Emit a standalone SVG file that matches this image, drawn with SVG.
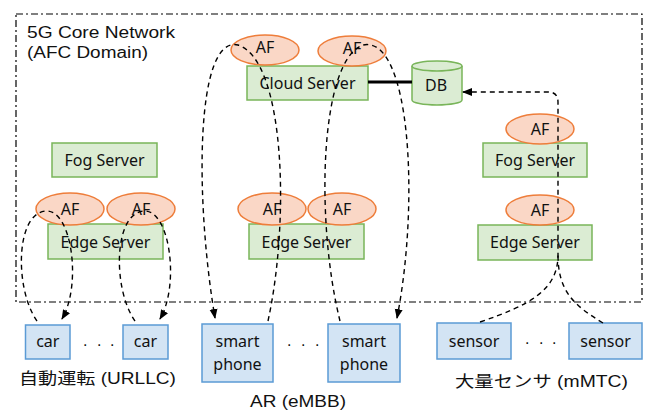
<svg xmlns="http://www.w3.org/2000/svg" width="649" height="412" viewBox="0 0 649 412">
<style>
.srv{fill:#dbecd3;stroke:#79b55a;stroke-width:1.5}
.af{fill:#fad7c6;stroke:#ee7d3a;stroke-width:1.5}
.dev{fill:#d3e4f4;stroke:#5b9bd5;stroke-width:1.5}
.db{fill:#dbecd3;stroke:#79b55a;stroke-width:1.5}
.t{font-family:"Noto Sans","DejaVu Sans",sans-serif;font-size:16px;fill:#111;text-anchor:middle}
.lbl{font-family:"Liberation Sans","Noto Sans CJK JP",sans-serif;font-size:16px;fill:#111}
.dash{fill:none;stroke:#000;stroke-width:1.4;stroke-dasharray:5 4}
.frame{fill:none;stroke:#000;stroke-width:1.2;stroke-dasharray:7 3 2 3}
</style>
<defs>
<marker id="ah" markerUnits="userSpaceOnUse" markerWidth="10" markerHeight="10" viewBox="0 0 10 10" refX="9" refY="5" orient="auto">
<path d="M0,1 L10,5 L0,9 z" fill="#000"/>
</marker>
</defs>
<rect id="frame" class="frame" x="16" y="14" width="626" height="288"/>
<text class="lbl" x="27" y="38" textLength="148" lengthAdjust="spacingAndGlyphs">5G Core Network</text>
<text class="lbl" x="27" y="58" textLength="121" lengthAdjust="spacingAndGlyphs">(AFC Domain)</text>

<g id="cloud-server"><rect class="srv" x="247" y="66" width="121" height="34"/><text class="t" x="307.5" y="88.5">Cloud Server</text></g>
<g id="db"><path class="db" d="M412,66 A25,5 0 0,1 462,66 L462,100 A25,5 0 0,1 412,100 Z"/><path class="db" d="M412,66 A25,5 0 0,0 462,66" fill="none"/><text class="t" x="436" y="91">DB</text></g>
<g id="af-cloud-1"><ellipse class="af" cx="265" cy="50" rx="34" ry="15"/><text class="t" x="265" y="53">AF</text></g>
<g id="af-cloud-2"><ellipse class="af" cx="352" cy="51" rx="34" ry="15"/><text class="t" x="352" y="53.5">AF</text></g>

<g id="fog-left"><rect class="srv" x="52" y="143" width="105" height="34"/><text class="t" x="104.5" y="166">Fog Server</text></g>
<g id="edge-left"><rect class="srv" x="48" y="224" width="115" height="35"/><text class="t" x="105.5" y="247.5">Edge Server</text></g>
<g id="af-left-1"><ellipse class="af" cx="70" cy="209" rx="34" ry="16"/><text class="t" x="70" y="215">AF</text></g>
<g id="af-left-2"><ellipse class="af" cx="141" cy="209" rx="34" ry="16"/><text class="t" x="141" y="215">AF</text></g>

<g id="edge-mid"><rect class="srv" x="249" y="224" width="115" height="35"/><text class="t" x="306.5" y="247.5">Edge Server</text></g>
<g id="af-mid-1"><ellipse class="af" cx="272" cy="209" rx="34" ry="16"/><text class="t" x="272" y="215">AF</text></g>
<g id="af-mid-2"><ellipse class="af" cx="342" cy="209" rx="34" ry="16"/><text class="t" x="342" y="215">AF</text></g>

<g id="fog-right"><rect class="srv" x="483" y="143" width="104" height="34"/><text class="t" x="535" y="166">Fog Server</text></g>
<g id="af-fog-right"><ellipse class="af" cx="540" cy="129" rx="34" ry="15"/><text class="t" x="540" y="135">AF</text></g>
<g id="edge-right"><rect class="srv" x="478" y="225" width="114" height="35"/><text class="t" x="535" y="248">Edge Server</text></g>
<g id="af-edge-right"><ellipse class="af" cx="540" cy="210" rx="34" ry="15"/><text class="t" x="540" y="216">AF</text></g>

<g id="car-1"><rect class="dev" x="25.5" y="325" width="44.5" height="34"/><text class="t" x="47.8" y="346.5">car</text></g>
<g id="car-2"><rect class="dev" x="123" y="325" width="45" height="34"/><text class="t" x="145.5" y="346.5">car</text></g>
<text class="lbl" x="83 97 110" y="346" font-size="19">...</text>
<text class="lbl" x="19" y="384" textLength="157" lengthAdjust="spacingAndGlyphs">自動運転 (URLLC)</text>

<g id="phone-1"><rect class="dev" x="202" y="324" width="71" height="58"/><text class="t" x="237.5" y="347">smart</text><text class="t" x="237.5" y="370">phone</text></g>
<g id="phone-2"><rect class="dev" x="328" y="324" width="72" height="58"/><text class="t" x="364" y="347">smart</text><text class="t" x="364" y="370">phone</text></g>
<text class="lbl" x="287 301 315" y="346" font-size="19">...</text>
<text class="lbl" x="250" y="407" textLength="96" lengthAdjust="spacingAndGlyphs">AR (eMBB)</text>

<g id="sensor-1"><rect class="dev" x="437" y="323" width="74" height="36"/><text class="t" x="474" y="346.5">sensor</text></g>
<g id="sensor-2"><rect class="dev" x="569" y="323" width="73" height="36"/><text class="t" x="605.5" y="346.5">sensor</text></g>
<text class="lbl" x="525 539 552" y="344" font-size="19">...</text>
<text class="lbl" x="455" y="387" textLength="173" lengthAdjust="spacingAndGlyphs">大量センサ (mMTC)</text>

<g id="connectors">
<line x1="368" y1="82" x2="412" y2="82" stroke="#000" stroke-width="3"/>
<path class="dash" d="M37,321 C15,290 15,215 45,211 C72,208 82,285 62,319" marker-end="url(#ah)"/>
<path class="dash" d="M135,321 C113,290 113,215 143,211 C170,208 180,285 160,319" marker-end="url(#ah)"/>
<path class="dash" d="M268,321 C290,220 285,60 238,45 C195,35 195,200 215,318" marker-end="url(#ah)"/>
<path class="dash" d="M340,321 C315,220 320,60 363,45 C410,35 420,200 397,318" marker-end="url(#ah)"/>
<path class="dash" d="M480,322 C530,305 558,290 558,255 L558,102 Q558,92 548,92 L463,92" marker-end="url(#ah)"/>
<path class="dash" d="M603,323 C575,306 558,292 558,255"/>
</g>
</svg>
